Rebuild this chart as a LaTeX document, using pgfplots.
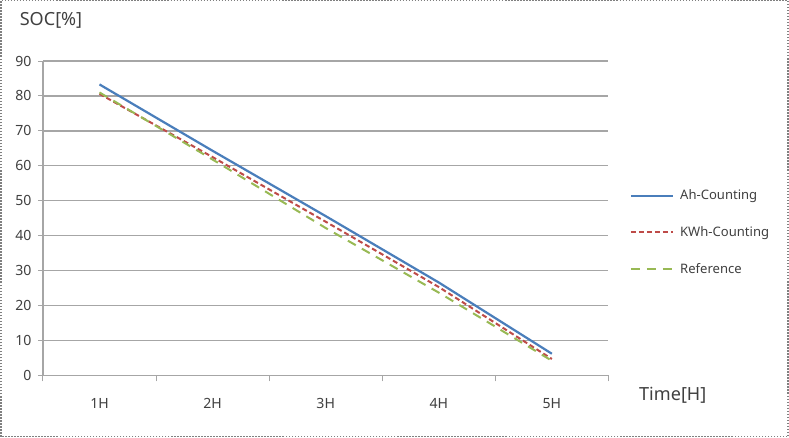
\documentclass[border=0pt]{standalone}
\usepackage{pgfplots}
\pgfplotsset{compat=1.18}
\usepackage{fontspec}
\setmainfont{Noto Sans}
\definecolor{ahblue}{HTML}{4A7EBB}
\definecolor{kwred}{HTML}{BE4B48}
\definecolor{refgreen}{HTML}{98B954}
\definecolor{gridgray}{HTML}{A6A6A6}
\definecolor{txt}{HTML}{404040}
\begin{document}
\begin{tikzpicture}[x=1pt,y=1pt]
\begin{axis}[
  scale only axis, width=563pt, height=313pt,
  at={(0,0)}, anchor=south west,
  xmin=0.5, xmax=5.5, ymin=0, ymax=90,
  axis x line*=bottom, axis y line*=left,
  axis line style={gridgray, line width=1.3pt},
  ytick={0,10,...,90},
  ymajorgrids, grid style={gridgray, line width=1.3pt},
  xtick={1,...,5}, xticklabels={1H,2H,3H,4H,5H},
  minor xtick={0.5,1.5,...,5.5},
  major x tick style={draw=none},
  minor x tick style={gridgray, line width=1pt},
  y tick style={gridgray, line width=1pt},
  tick align=outside, major tick length=5pt, minor tick length=6pt,
  /pgf/number format/assume math mode=true,
  ticklabel style={font=\fontsize{14}{16}\selectfont, text=txt},
  xticklabel style={yshift=-14pt},
  yticklabel style={xshift=-3pt},
  legend style={draw=none, fill=none, at={(1,0.455)}, anchor=west, xshift=18pt,
    font=\fontsize{13}{15}\selectfont, row sep=21pt, text=txt},
  legend cell align=left,
  legend image code/.code={\draw[#1] (0pt,0pt) -- (42pt,0pt); \path (46pt,0pt);},
]
\addplot[ahblue, line width=2.2pt] coordinates {(1,83.3)(2,64.3)(3,45.6)(4,26.6)(5,6.2)};
\addlegendentry{Ah-Counting}
\addplot[kwred, line width=2pt, dash pattern=on 5pt off 3pt] coordinates {(1,80.6)(2,62.5)(3,44.0)(4,25.3)(5,4.7)};
\addlegendentry{KWh-Counting}
\addplot[refgreen, line width=2pt, dash pattern=on 9pt off 7pt] coordinates {(1,81.0)(2,61.8)(3,42.2)(4,23.7)(5,4.2)};
\addlegendentry{Reference}
\end{axis}
\node[text=txt, font=\fontsize{18}{20}\selectfont] at (8,353) {SOC[\%]};
\node[text=txt, font=\fontsize{18}{20}\selectfont] at (627,-20) {Time[H]};
\draw[gray, line width=1.5pt, dash pattern=on 1.5pt off 1.5pt] (-42,-61) rectangle (742,373);
\end{tikzpicture}
\end{document}
